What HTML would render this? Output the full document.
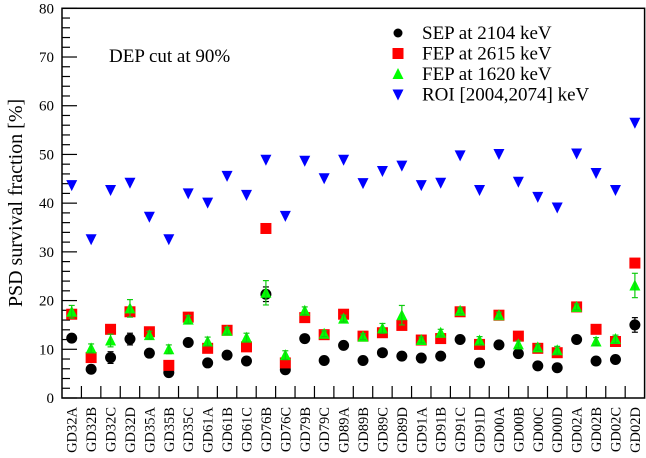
<!DOCTYPE html>
<html><head><meta charset="utf-8"><style>
html,body{margin:0;padding:0;background:#fff;}
svg{display:block;}
text{font-family:"Liberation Serif","DejaVu Serif",serif;}
</style></head><body>
<svg id="chart" width="646" height="458"></svg>
<script>
const categories=["GD32A","GD32B","GD32C","GD32D","GD35A","GD35B","GD35C","GD61A","GD61B","GD61C","GD76B","GD76C","GD79B","GD79C","GD89A","GD89B","GD89C","GD89D","GD91A","GD91B","GD91C","GD91D","GD00A","GD00B","GD00C","GD00D","GD02A","GD02B","GD02C","GD02D"];
const sepValues=[12.3,5.9,8.3,12.1,9.2,5.2,11.4,7.2,8.8,7.6,21.3,5.8,12.2,7.7,10.8,7.7,9.3,8.6,8.2,8.6,12.0,7.2,10.9,9.1,6.6,6.2,12.0,7.6,7.9,15.0];
const sepErrors=[0.6,0.4,1.2,1.2,0.6,0.4,0.5,0.4,0.4,0.4,1.5,0.4,0.5,0.4,0.4,0.4,0.4,0.4,0.4,0.4,0.4,0.4,0.4,0.4,0.4,0.4,0.4,0.4,0.4,1.5];
const fep2615Values=[17.2,8.3,14.1,17.7,13.6,6.7,16.6,10.2,13.9,10.5,34.8,7.2,16.5,13.0,17.2,12.7,13.4,14.9,11.9,12.2,17.7,11.0,17.0,12.7,10.2,9.3,18.7,14.1,11.6,27.7];
const fep1620Values=[17.7,10.2,11.8,18.4,12.9,10.0,16.1,11.6,13.8,12.4,21.6,8.8,17.9,13.2,16.3,12.6,14.3,17.0,11.9,13.4,17.9,11.8,17.0,11.0,10.4,9.8,18.7,11.6,12.1,23.1];
const fep1620Errors=[1.3,0.9,1.3,1.8,0.8,0.9,0.8,0.9,0.7,0.9,2.5,0.9,0.8,0.6,0.7,0.6,1.0,2.0,0.6,0.7,0.6,0.8,0.6,0.7,0.6,0.8,0.6,0.8,0.8,2.5];
const roiValues=[43.7,32.6,42.7,44.2,37.2,32.6,42.0,40.1,45.6,41.7,48.9,37.4,48.7,45.1,48.9,44.1,46.6,47.7,43.7,44.2,49.8,42.7,50.1,44.4,41.3,39.1,50.2,46.2,42.7,56.5];
const yTicks=[0,10,20,30,40,50,60,70,80];

const NS="http://www.w3.org/2000/svg";
const svg=document.getElementById('chart');
const L=62,R=644.6,T=8.3,B=398,YMAX=80;
const bw=(R-L)/categories.length;
const FF='"Liberation Serif","DejaVu Serif",serif';
function xs(i){return L+bw*(i+0.5);}
function ys(v){return B-(v/YMAX)*(B-T);}
function mk(tag,attrs,parent){const e=document.createElementNS(NS,tag);for(const k in attrs)e.setAttribute(k,attrs[k]);if(tag==='text')e.setAttribute('font-family',FF);(parent||svg).appendChild(e);return e;}

const frame=mk('rect',{x:L,y:T,width:R-L,height:B-T,fill:'none',stroke:'#000','stroke-width':1.5});



for(let v=0;v<=YMAX;v+=2){
  const major=v%10===0;
  const t=mk('line',{x1:L,x2:L+(major?15:8),y1:ys(v),y2:ys(v),stroke:'#000','stroke-width':1.2});
  
  
}
yTicks.forEach(v=>{
  const t=mk('text',{x:L-8,y:ys(v)+5,'text-anchor':'end','font-size':15});
  t.textContent=v;
  
  
});
categories.forEach((c,i)=>{
  if(i>0){
    const t=mk('line',{x1:L+bw*i,x2:L+bw*i,y1:B,y2:B-12,stroke:'#000','stroke-width':1.2});
    
    
  }
  const x=xs(i)+5,y=407;
  const lbl=mk('text',{x:x,y:y,'text-anchor':'end','font-size':14.5,transform:`rotate(-90 ${x} ${y})`});
  lbl.textContent=c;
  
  
});

const yl=mk('text',{x:22,y:203,'text-anchor':'middle','font-size':20,transform:'rotate(-90 22 203)'});
yl.textContent='PSD survival fraction [%]';



const note=mk('text',{x:109,y:62,'font-size':19});
note.textContent='DEP cut at 90%';



function errbar(i,v,e,color){
  const g=mk('g',{stroke:color,'stroke-width':1.2});
  
  
  const x=xs(i);
  mk('line',{x1:x,x2:x,y1:ys(v-e),y2:ys(v+e)},g);
  mk('line',{x1:x-3,x2:x+3,y1:ys(v-e),y2:ys(v-e)},g);
  mk('line',{x1:x-3,x2:x+3,y1:ys(v+e),y2:ys(v+e)},g);
}
function circle(x,y,p){return mk('circle',{cx:x,cy:y,r:5.5,fill:'#000'},p);}
function square(x,y,p){return mk('rect',{x:x-5.5,y:y-5.5,width:11,height:11,fill:'#f00'},p);}
function tri(x,y,p){return mk('polygon',{points:`${x-5.5},${y+5} ${x+5.5},${y+5} ${x},${y-6}`,fill:'#0f0'},p);}
function itri(x,y,p){return mk('polygon',{points:`${x-5.5},${y-5} ${x+5.5},${y-5} ${x},${y+6}`,fill:'#00f'},p);}

roiValues.forEach((v,i)=>{const m=itri(xs(i),ys(v));});
sepValues.forEach((v,i)=>{errbar(i,v,sepErrors[i],'#000');const m=circle(xs(i),ys(v));});
fep2615Values.forEach((v,i)=>{const m=square(xs(i),ys(v));});
fep1620Values.forEach((v,i)=>{const m=tri(xs(i),ys(v));errbar(i,v,fep1620Errors[i],'#1c1');});

const legend=[['SEP at 2104 keV',circle],['FEP at 2615 keV',square],['FEP at 1620 keV',tri],['ROI [2004,2074] keV',itri]];
const lg=mk('g',{});


legend.forEach((e,k)=>{
  const y=33+k*20.5;
  const g=mk('g',{},lg);
  
  
  const m=e[1](398,y,g);
  if(e[1]===circle)m.setAttribute('r',4.5);
  const t=mk('text',{x:422,y:y+6,'font-size':19},g);
  t.textContent=e[0];
});
</script>
</body></html>
